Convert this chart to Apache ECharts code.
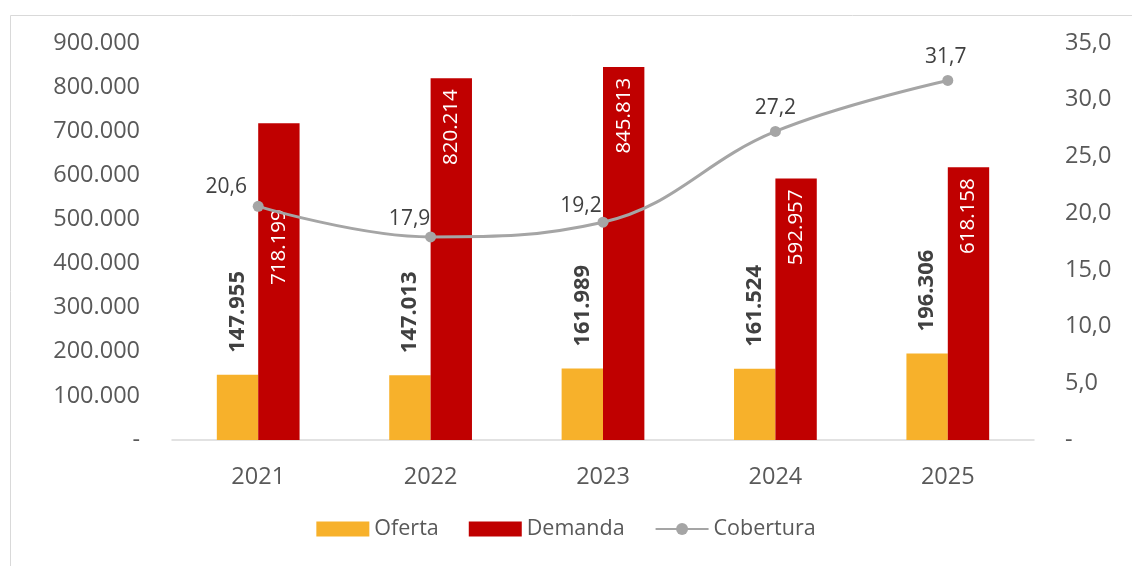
<!DOCTYPE html>
<html>
<head>
<meta charset="utf-8">
<script src="https://cdn.jsdelivr.net/npm/echarts@6/dist/echarts.min.js"></script>
<style>html,body{margin:0;padding:0;background:#fff;}#c{width:1132px;height:566px;}</style>
</head>
<body>
<div id="c"></div>
<script>
const categories = ['2021', '2022', '2023', '2024', '2025'];
const oferta = [147955, 147013, 161989, 161524, 196306];
const demanda = [718199, 820214, 845813, 592957, 618158];
const cobertura = [20.6, 17.9, 19.2, 27.2, 31.7];

const FONT = '"Open Sans", "Noto Sans", sans-serif';
function fmtThousands(v) {
  if (v === 0) return '-';
  return String(Math.round(v)).replace(/\B(?=(\d{3})+(?!\d))/g, '.');
}
function fmtDec(v) {
  if (v === 0) return '-';
  return v.toFixed(1).replace('.', ',');
}

const chart = echarts.init(document.getElementById('c'), null, {renderer: 'canvas'});

const demandaItems = demanda.map((v, i) => {
  const item = {value: v};
  if (i === 0) item.label = {show: true, distance: 86};
  return item;
});
const coberturaOffsets = [[-32, 4], [-21, 5], [-22, 7], [0, 0], [-2, 0]];
const coberturaItems = cobertura.map((v, i) => ({value: v, label: {show: true, offset: coberturaOffsets[i]}}));

chart.setOption({
  animation: false,
  textStyle: {fontFamily: FONT},
  graphic: [{
    type: 'rect', left: 8, top: 13,
    shape: {width: 1200, height: 600},
    style: {fill: 'none', stroke: '#D9D9D9', lineWidth: 1},
    silent: true, z: -10
  }],
  grid: {left: 172, right: 98, top: 43, bottom: 126, containLabel: false},
  legend: {
    bottom: 21, left: 'center',
    itemWidth: 53, itemHeight: 15, itemGap: 30,
    textStyle: {fontSize: 21.5, color: '#595959', fontFamily: FONT},
    data: [
      {name: 'Oferta', icon: 'rect'},
      {name: 'Demanda', icon: 'rect'},
      {name: 'Cobertura'}
    ]
  },
  xAxis: {
    type: 'category', data: categories,
    axisLine: {lineStyle: {color: '#D9D9D9', width: 1.5}},
    axisTick: {show: false},
    axisLabel: {fontSize: 23.5, color: '#595959', margin: 25, fontFamily: FONT}
  },
  yAxis: [{
    type: 'value', min: 0, max: 900000, interval: 100000,
    splitLine: {show: false}, axisLine: {show: false}, axisTick: {show: false},
    axisLabel: {fontSize: 23.5, color: '#595959', margin: 32, formatter: fmtThousands, fontFamily: FONT}
  }, {
    type: 'value', min: 0, max: 35, interval: 5,
    splitLine: {show: false}, axisLine: {show: false}, axisTick: {show: false},
    axisLabel: {fontSize: 23.5, color: '#595959', margin: 31, formatter: fmtDec, fontFamily: FONT}
  }],
  series: [{
    name: 'Oferta', type: 'bar', data: oferta,
    barWidth: '24%', barGap: '0%',
    itemStyle: {color: '#F7B12B'},
    label: {
      show: true, position: 'top', rotate: 90, distance: 22,
      align: 'left', verticalAlign: 'middle',
      fontSize: 22, fontWeight: 'bold', color: '#404040', fontFamily: FONT,
      formatter: p => fmtThousands(p.value)
    }
  }, {
    name: 'Demanda', type: 'bar', data: demandaItems,
    barWidth: '24%', barGap: '0%',
    itemStyle: {color: '#C00000'},
    label: {
      show: true, position: 'insideTop', rotate: 90, distance: 11,
      align: 'right', verticalAlign: 'middle',
      fontSize: 20.5, color: '#FFFFFF', fontFamily: FONT,
      formatter: p => fmtThousands(p.value)
    }
  }, {
    name: 'Cobertura', type: 'line', yAxisIndex: 1, data: coberturaItems,
    smooth: 0.4, symbol: 'circle', symbolSize: 11,
    lineStyle: {color: '#A5A5A5', width: 3},
    itemStyle: {color: '#A5A5A5'},
    label: {
      show: true, position: 'top', distance: 7,
      fontSize: 21, color: '#404040', fontFamily: FONT,
      formatter: p => fmtDec(p.value)
    },
    z: 5
  }]
});
</script>
</body>
</html>
